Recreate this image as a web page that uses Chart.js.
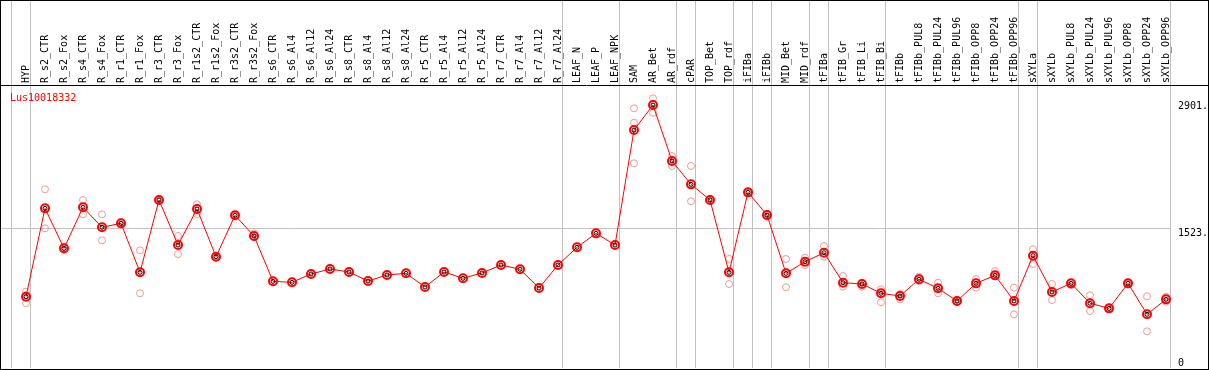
<!DOCTYPE html>
<html>
<head>
<meta charset="utf-8">
<script src="https://cdn.jsdelivr.net/npm/chart.js@4.4.1/dist/chart.umd.min.js"></script>
<style>
  html, body { margin:0; padding:0; background:#fff; }
  #wrap { width:1207px; height:368px; border:1px solid #000; position:relative; }
</style>
</head>
<body>
<div id="wrap"><canvas id="expr"></canvas></div>
<script>
/* ---------- data ---------- */
const geneId = 'Lus10018332';

const samples = [
  'HYP','R_s2_CTR','R_s2_Fox','R_s4_CTR','R_s4_Fox','R_r1_CTR','R_r1_Fox','R_r3_CTR','R_r3_Fox',
  'R_r1s2_CTR','R_r1s2_Fox','R_r3s2_CTR','R_r3s2_Fox',
  'R_s6_CTR','R_s6_Al4','R_s6_Al12','R_s6_Al24','R_s8_CTR','R_s8_Al4','R_s8_Al12','R_s8_Al24',
  'R_r5_CTR','R_r5_Al4','R_r5_Al12','R_r5_Al24','R_r7_CTR','R_r7_Al4','R_r7_Al12','R_r7_Al24',
  'LEAF_N','LEAF_P','LEAF_NPK','SAM','AR_Bet','AR_rdf','cPAR','TOP_Bet','TOP_rdf','iFIBa','iFIBb',
  'MID_Bet','MID_rdf','tFIBa','tFIB_Gr','tFIB_Li','tFIB_Bi','tFIBb','tFIBb_PUL8','tFIBb_PUL24',
  'tFIBb_PUL96','tFIBb_OPP8','tFIBb_OPP24','tFIBb_OPP96','sXYLa','sXYLb','sXYLb_PUL8','sXYLb_PUL24',
  'sXYLb_PUL96','sXYLb_OPP8','sXYLb_OPP24','sXYLb_OPP96'
];

// mean expression per sample (the joined red line)
const meanExpr = [
  776,1737,1302,1748,1531,1574,1041,1828,1338,1730,1211,1661,1436,
  943,932,1023,1077,1044,946,1012,1030,881,1044,976,1034,1121,1074,870,1121,
  1313,1465,1338,2589,2861,2252,1998,1828,1041,1911,1664,1030,1156,1254,
  928,914,813,783,965,867,729,921,1008,729,1222,827,921,704,649,921,584,747
];

// single replicates (pale rings)
const repHigh = [
  830,1944,1316,1828,1672,1585,1280,1835,1436,1781,1218,1664,1465,
  null,null,null,null,null,null,null,null,null,null,null,null,null,null,null,null,null,null,null,
  2825,2934,2306,2198,1835,1186,1918,1675,1186,1200,1327,1001,928,856,805,993,928,740,968,1055,
  874,1291,914,925,791,655,925,780,776
];
const repLow = [
  704,1520,1284,1672,1389,1556,813,1820,1240,1675,1204,1657,1422,
  null,null,null,null,null,null,null,null,null,null,null,null,null,null,null,null,null,null,null,
  2227,2777,2198,1814,1820,914,1907,1646,878,1121,1211,884,884,715,747,946,813,720,874,1001,
  584,1131,740,900,620,643,914,399,721
];
const repThird = { 0:790, 32:2669, 33:2872 };

// last sample index of each group (gray separators), -1 = left edge
const groupEnds = [-1,0,28,31,34,35,37,38,39,41,42,45,52,53,60];

const yTickVals  = [1523, 2901];
const yZeroVal   = [0];
const yMax       = 3079;

/* ---------- helpers ---------- */
const SEP  = 0.24;                       // separator sits just right of a sample
const FONT = { family:'"DejaVu Sans Mono", monospace', size:10 };
const GRAY = '#c0c0c0';
const toPts = arr => arr.map((v,i)=> v==null ? null : {x:i, y:v}).filter(Boolean);
const ends  = new Set(groupEnds);
const noPad = s => { s.paddingTop = s.paddingBottom = s.paddingLeft = s.paddingRight = 0; };

/* header rule over the y-axis column + gene id */
const frameBits = {
  id:'frameBits',
  afterDraw(chart){
    const { ctx, chartArea:a, width } = chart;
    ctx.save();
    ctx.strokeStyle = '#000'; ctx.lineWidth = 1;
    ctx.beginPath(); ctx.moveTo(a.right, a.top + 0.5); ctx.lineTo(width, a.top + 0.5); ctx.stroke();
    ctx.fillStyle = '#ff0000';
    ctx.font = '10px "DejaVu Sans Mono", monospace';
    ctx.textBaseline = 'top';
    ctx.fillText(geneId, a.left + 9, a.top + 8);
    ctx.restore();
  }
};

new Chart(document.getElementById('expr'), {
  type:'line',
  data:{
    datasets:[
      { label:'mean-core', data:toPts(meanExpr), showLine:false, order:0,
        pointRadius:2, pointBorderWidth:1, pointBorderColor:'#000', pointBackgroundColor:'transparent' },
      { label:geneId, data:toPts(meanExpr), order:1,
        borderColor:'#ff0000', borderWidth:1, tension:0,
        pointRadius:4, pointBorderWidth:2, pointBorderColor:'#ff0000', pointBackgroundColor:'transparent' },
      { label:'rep', order:2, showLine:false,
        data:[...toPts(repHigh), ...toPts(repLow),
              ...Object.entries(repThird).map(([i,v])=>({x:+i, y:v}))],
        pointRadius:3.5, pointBorderWidth:1, pointBorderColor:'#ee9999', pointBackgroundColor:'transparent' }
    ]
  },
  options:{
    responsive:true, maintainAspectRatio:false, animation:false, devicePixelRatio:1,
    layout:{ autoPadding:false, padding:{ bottom:1 } },
    plugins:{ legend:{display:false}, tooltip:{enabled:false} },
    scales:{
      x:{
        type:'linear', position:'top', min:-1.316, max:60.263,
        afterBuildTicks: s => { s.ticks = [-1, ...samples.map((_,i)=>i)].map(i=>({value:i+SEP})); },
        afterFit: s => { s.height = 84; noPad(s); },
        ticks:{ autoSkip:false, minRotation:90, maxRotation:90, labelOffset:8, padding:-82,
                color:'#000', font:FONT,
                callback:(v,idx)=> idx===0 ? '' : samples[idx-1] },
        grid:{ tickLength:84, lineWidth:1,
               color: ctx => (ctx.type==='tick' && ends.has(ctx.index-1)) ? GRAY : 'transparent' },
        border:{ display:true, color:'#000', width:1 }
      },
      y:{
        type:'linear', position:'right', weight:1, min:0, max:yMax,
        afterBuildTicks: s => { s.ticks = yTickVals.map(v=>({value:v})); },
        afterFit: s => { s.width = 37; noPad(s); },
        ticks:{ align:'start', padding:7, color:'#000', font:FONT, callback:v=> v + '.' },
        grid:{ drawTicks:false, color: ctx => (ctx.tick && ctx.tick.value===1523) ? GRAY : 'transparent' },
        border:{ display:false }
      },
      yZero:{
        type:'linear', position:'right', weight:0, min:0, max:yMax,
        afterBuildTicks: s => { s.ticks = yZeroVal.map(v=>({value:v})); },
        afterFit: s => { s.width = 0; noPad(s); },
        ticks:{ align:'end', mirror:true, padding:13, color:'#000', font:FONT, callback:v=> String(v) },
        grid:{ display:false, drawTicks:false },
        border:{ display:false }
      }
    }
  },
  plugins:[frameBits]
});
</script>
</body>
</html>
